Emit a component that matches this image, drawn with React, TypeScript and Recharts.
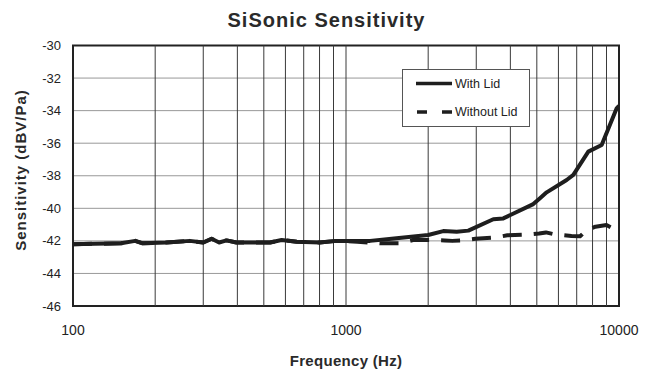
import React from 'react';
import { LineChart, Line, XAxis, YAxis, CartesianGrid, ReferenceLine, ReferenceArea, Legend } from 'recharts';

const chartTitle = 'SiSonic Sensitivity';
const xAxisTitle = 'Frequency (Hz)';
const yAxisTitle = 'Sensitivity (dBV/Pa)';
const seriesNames = ['With Lid', 'Without Lid'];

const withLidFreq = [100, 120, 150, 169, 180, 220, 268, 300, 322, 343, 365, 397, 527, 581, 660, 800, 923, 1225, 1500, 2000, 2272, 2544, 2806, 3464, 3767, 4853, 5135, 5432, 6430, 6803, 7720, 8640, 9806, 10000];
const withLidDb = [-42.2, -42.18, -42.15, -42.0, -42.15, -42.1, -42.0, -42.1, -41.87, -42.1, -41.97, -42.1, -42.1, -41.95, -42.05, -42.1, -42.0, -42.0, -41.85, -41.64, -41.4, -41.44, -41.37, -40.67, -40.62, -39.74, -39.38, -39.02, -38.26, -37.95, -36.52, -36.11, -33.86, -33.7];

const withoutLidFreq = [100, 120, 150, 169, 180, 220, 268, 300, 322, 343, 365, 397, 527, 581, 660, 800, 923, 1100, 1332, 1578, 1760, 2070, 2300, 2450, 2680, 2980, 3550, 3900, 4600, 5100, 5400, 5800, 6700, 7200, 7600, 8200, 9000, 9600];
const withoutLidDb = [-42.2, -42.18, -42.15, -42.0, -42.15, -42.1, -42.0, -42.1, -41.87, -42.1, -41.97, -42.1, -42.1, -41.95, -42.05, -42.1, -42.0, -42.05, -42.15, -42.15, -41.95, -41.95, -41.97, -42.0, -41.97, -41.87, -41.78, -41.66, -41.62, -41.55, -41.48, -41.6, -41.7, -41.72, -41.35, -41.13, -41.03, -41.27];

const xTicks = [100, 1000, 10000];
const yTicks = [-46, -44, -42, -40, -38, -36, -34, -32, -30];
const minorGridFreqs = [200, 300, 400, 500, 600, 700, 800, 900, 1000, 2000, 3000, 4000, 5000, 6000, 7000, 8000, 9000];

const withLid = withLidFreq.map((f, i) => ({ f, v: withLidDb[i] }));
const withoutLid = withoutLidFreq.map((f, i) => ({ f, v: withoutLidDb[i] }));

const FONT = '"Liberation Sans", Arial, Helvetica, sans-serif';
const INK = '#1e1e1e';

const LegendBox = (props: any) => {
  const payload = props && props.payload && props.payload.length ? props.payload : null;
  const n0 = payload ? payload[0].value : seriesNames[0];
  const n1 = payload && payload[1] ? payload[1].value : seriesNames[1];
  return (
    <svg width={128} height={58} style={{ display: 'block' }}>
      <rect x={0.5} y={0.5} width={127} height={57} fill="#fff" stroke="#555" strokeWidth={1} />
      <line x1={14} x2={50} y1={14.5} y2={14.5} stroke={INK} strokeWidth={3.5} />
      <line x1={15} x2={51} y1={43} y2={43} stroke={INK} strokeWidth={3.5} strokeDasharray="10 15" />
      <text x={53} y={14.5} dominantBaseline="central" fontFamily={FONT} fontSize={12.5} fill="#222">{n0}</text>
      <text x={53} y={43} dominantBaseline="central" fontFamily={FONT} fontSize={12.5} fill="#222">{n1}</text>
    </svg>
  );
};

export default function App() {
  return (
    <div style={{ position: 'absolute', left: 0, top: 0, width: 653, height: 373, background: '#fff', fontFamily: FONT }}>
      <div style={{ position: 'absolute', left: 0, top: 10, width: 653, textAlign: 'center', fontSize: 20, lineHeight: '20px', fontWeight: 'bold', letterSpacing: '1px', color: '#2a2a2a' }}>
        {chartTitle}
      </div>
      <LineChart width={653} height={373} margin={{ top: 45.5, right: 34, bottom: 0, left: 0 }}>
        <CartesianGrid vertical={false} stroke="#999" strokeWidth={1} />
        {minorGridFreqs.map((f) => (
          <ReferenceLine key={f} x={f} stroke="#3a3a3a" strokeWidth={1} />
        ))}
        <XAxis
          dataKey="f"
          type="number"
          scale="log"
          domain={[100, 10000]}
          ticks={xTicks}
          allowDataOverflow
          axisLine={false}
          tickLine={false}
          tickSize={0}
          tickMargin={19}
          height={67}
          tick={{ fontSize: 14, fill: '#222', fontFamily: FONT }}
        />
        <YAxis
          type="number"
          domain={[-46, -30]}
          ticks={yTicks}
          allowDataOverflow
          axisLine={false}
          tickLine={false}
          tickSize={0}
          tickMargin={12}
          width={73}
          tick={{ fontSize: 13, fill: '#222', fontFamily: FONT }}
        />
        <Line
          data={withoutLid}
          dataKey="v"
          name={seriesNames[1]}
          stroke={INK}
          strokeWidth={4}
          strokeDasharray="19 12"
          dot={false}
          activeDot={false}
          isAnimationActive={false}
          strokeLinejoin="round"
        />
        <Line
          data={withLid}
          dataKey="v"
          name={seriesNames[0]}
          stroke={INK}
          strokeWidth={4}
          dot={false}
          activeDot={false}
          isAnimationActive={false}
          strokeLinejoin="round"
        />
        <ReferenceArea x1={100} x2={10000} y1={-46} y2={-30} fill="none" fillOpacity={0} stroke="#222" strokeWidth={2} ifOverflow="visible" />
        <Legend
          layout="vertical"
          align="center"
          verticalAlign="middle"
          content={<LegendBox />}
          wrapperStyle={{ position: 'absolute', left: 402, top: 69, width: 128, height: 58 }}
        />
      </LineChart>
      <div style={{ position: 'absolute', left: 0, top: 353, width: 692, textAlign: 'center', fontSize: 15, lineHeight: '15px', fontWeight: 'bold', letterSpacing: '0.3px', color: '#2a2a2a' }}>
        {xAxisTitle}
      </div>
      <div style={{ position: 'absolute', left: 21 - 120, top: 170 - 8, width: 240, height: 16, textAlign: 'center', fontSize: 15, lineHeight: '16px', fontWeight: 'bold', letterSpacing: '1px', color: '#2a2a2a', transform: 'rotate(-90deg)', whiteSpace: 'nowrap' }}>
        {yAxisTitle}
      </div>
    </div>
  );
}
